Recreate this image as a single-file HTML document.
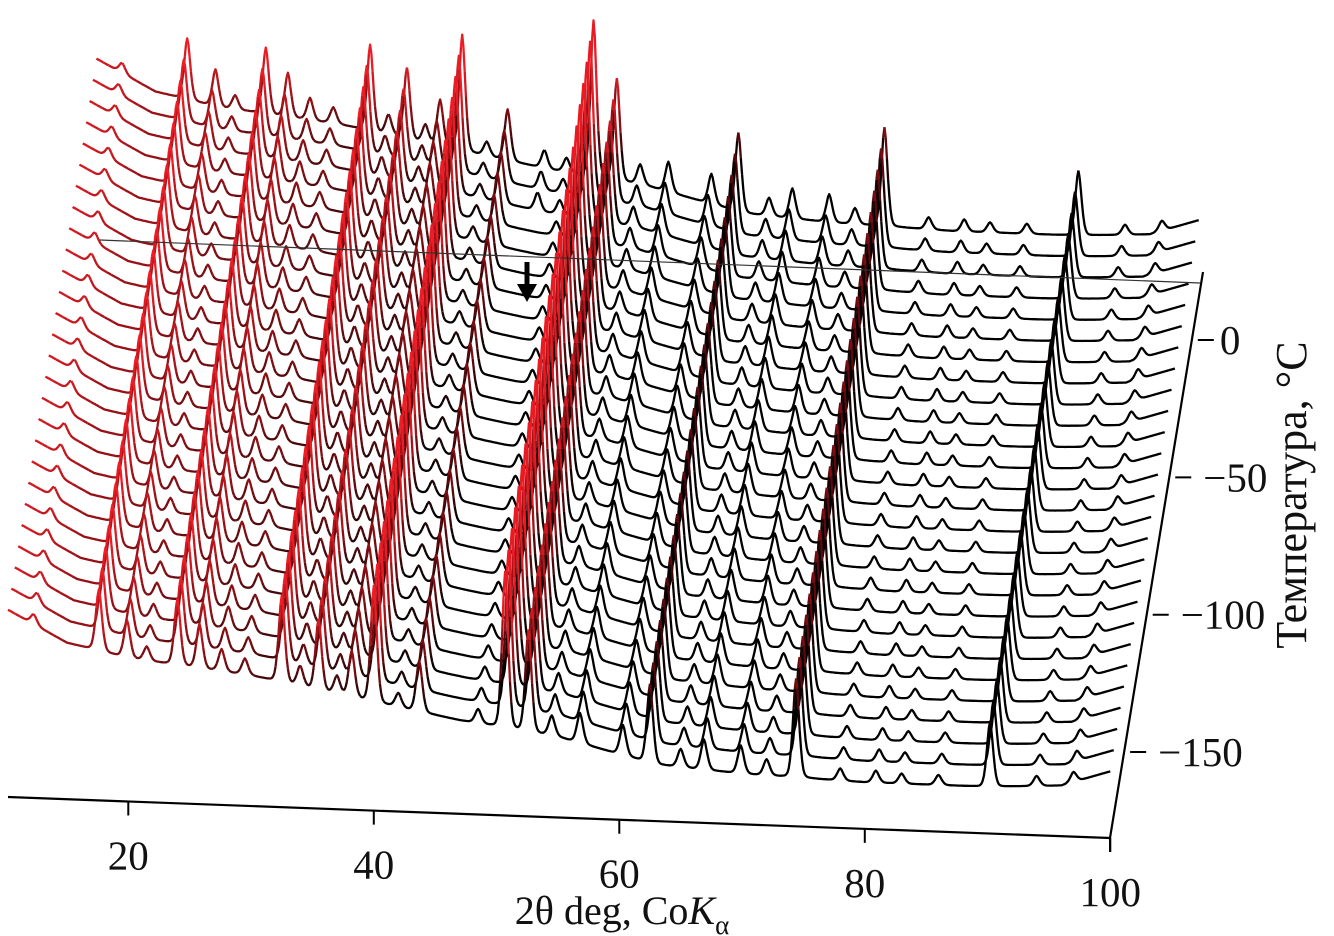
<!DOCTYPE html>
<html><head><meta charset="utf-8"><style>
html,body{margin:0;padding:0;background:#fff;}
svg{display:block;}
text{font-family:"Liberation Serif",serif;fill:#111;}
</style></head><body>
<svg id="chart" width="1334" height="936" viewBox="0 0 1334 936" xmlns="http://www.w3.org/2000/svg">
<g id="traces"></g>
<line x1="100" y1="240" x2="1200" y2="283" stroke="#333" stroke-width="1.2"/>
<g id="axes"></g>
<g>
<line x1="527" y1="262" x2="527" y2="288" stroke="#000" stroke-width="5"/>
<polygon points="517,284 537,284 527,302" fill="#000"/>
</g>
</svg>
<script>
// ---- data ----
const temperatures = [-170,-162.5,-155,-147.5,-140,-132.5,-125,-117.5,-110,-102.5,-95,-87.5,-80,-72.5,-65,-57.5,-50,-42.5,-35,-27.5,-20,-12.5,-5,2.5,10,17.5,25];
const peakPositions = [12.3,17.6,19.9,21.5,24.0,25.8,27.6,29.5,32.5,34.0,35.5,37.0,38.2,40.0,42.0,43.7,46.7,48.5,50.7,52.6,54.5,56.8,60.3,62.5,65.0,66.9,69.9,72.0,74.4,78.0,80.9,83.0,86.0,90.2,94.0,97.0];
const peakHeights   = [10,61,37,14,66,44,22,16,86,20,71,18,46,116,14,51,18,14,156,102,20,30,30,79,18,30,28,16,99,12,12,10,10,65,10,10];
const peakMinTemp   = [-999,-999,-999,-999,-999,-999,-999,-999,-999,-999,-999,-999,-999,-999,-999,-999,10,-999,-999,-999,-999,-999,-999,-999,-999,-999,-999,-999,-999,-999,-999,-999,-999,-999,-999,-999];
const bgAngles = [10,15,20,30,40,47,55,63,70,80,90,96,100];
const bgLevels = [150,118,105,92,70,55,42,18,12,8,8,12,28];
const xTicks = [20,40,60,80,100];
const tTicks = [0,-50,-100,-150];

// ---- scales ----
const TH0 = 10.2, PXDEG = 12.275;
const T0 = -170;
const DX_PER_T = 3.4/7.5, DY_PER_T = 21.2/7.5;
function xFront(th){ return 8 + (th-TH0)*PXDEG; }
function xScr(th,T){ return xFront(th) + (T-T0)*DX_PER_T; }
function y0Scr(th,T){ return 792 + 0.037*(xFront(th)-912) - (T-T0)*DY_PER_T; }
function bg(th){
  for(let i=0;i<bgAngles.length-1;i++){
    if(th<=bgAngles[i+1]){const f=(th-bgAngles[i])/(bgAngles[i+1]-bgAngles[i]);return bgLevels[i]+f*(bgLevels[i+1]-bgLevels[i]);}
  }
  return bgLevels[bgLevels.length-1];
}
function intensity(th,T){
  let I=bg(th);
  for(let i=0;i<peakPositions.length;i++){
    if(T<peakMinTemp[i]) continue;
    const d=(th-peakPositions[i])/0.27;
    I+=peakHeights[i]*(0.75*Math.exp(-0.5*d*d)+0.25/(1+d*d*2));
  }
  return I;
}
function colorFor(I){
  const stops=[[70,[0,0,0]],[110,[128,13,18]],[160,[238,28,36]]];
  let c;
  if(I<=stops[0][0]) c=stops[0][1];
  else if(I>=stops[2][0]) c=stops[2][1];
  else { const k=I<stops[1][0]?0:1; const f=(I-stops[k][0])/(stops[k+1][0]-stops[k][0]);
    c=stops[k][1].map((v,j)=>Math.round(v+f*(stops[k+1][1][j]-v))); }
  return c;
}
const NS="http://www.w3.org/2000/svg";
const tg=document.getElementById('traces');
for(let ti=temperatures.length-1; ti>=0; ti--){
  const T=temperatures[ti];
  const g=document.createElementNS(NS,'g');
  
  
  let pts=[], curKey=null, curCol=null;
  const flush=()=>{ if(pts.length>1){ const p=document.createElementNS(NS,'polyline');
      p.setAttribute('points',pts.join(' ')); p.setAttribute('fill','none');
      p.setAttribute('stroke',curCol); p.setAttribute('stroke-width','2.3');
      p.setAttribute('stroke-linejoin','round');
      
      
      g.appendChild(p);} };
  for(let th=TH0; th<=100.001; th+=0.1){
    const I=intensity(th,T);
    const x=xScr(th,T), y=y0Scr(th,T)-I;
    const c=colorFor(I); const key=c.map(v=>Math.round(v/16)).join(',');
    const pt=x.toFixed(1)+','+y.toFixed(1);
    if(key!==curKey){ if(curKey!==null){ pts.push(pt); flush(); pts=[pts[pts.length-1]]; } else pts=[];
      curKey=key; curCol='rgb('+c.join(',')+')'; if(pts.length===0) pts.push(pt); }
    else pts.push(pt);
  }
  flush();
  tg.appendChild(g);
}
// axes
const ag=document.getElementById('axes');
function mk(tag,attrs,name,txt){const e=document.createElementNS(NS,tag);for(const k in attrs)e.setAttribute(k,attrs[k]);
  
  
  if(txt!==undefined)e.textContent=txt;ag.appendChild(e);return e;}
mk('line',{x1:8,y1:797,x2:1110,y2:838,stroke:'#000','stroke-width':2.2},'x-axis-line');
mk('line',{x1:1110,y1:838,x2:1203,y2:272,stroke:'#000','stroke-width':2.2},'temperature-axis-line');
mk('line',{x1:1110,y1:838,x2:1110,y2:852,stroke:'#000','stroke-width':2},'x-axis-end-tick');
function xAxisPos(th){ const x=xFront(th); return [x, 797+(x-8)*(41/1102)]; }
xTicks.forEach(v=>{const [x,y]=xAxisPos(v);
  mk('line',{x1:x,y1:y,x2:x,y2:y+14,stroke:'#000','stroke-width':2},'x-tick');
  mk('text',{x:x,y:y+68,'text-anchor':'middle','font-size':41},'x-tick-label',String(v));});
mk('text',{x:622,y:924,'text-anchor':'middle','font-size':40},'x-axis-title').innerHTML='2θ deg, Co<tspan font-style="italic">K</tspan><tspan font-size="27" dy="10">α</tspan>';
function tAxisY(t){ return 340 - t*2.747; }
function tAxisX(y){ return 1110 + (838-y)*(93/566); }
tTicks.forEach(t=>{const y=tAxisY(t), x=tAxisX(y);
  mk('line',{x1:x+6,y1:y,x2:x+22,y2:y,stroke:'#000','stroke-width':2},'temperature-tick');
  mk('text',{x:x+(t===0?28:34),y:y+14,'font-size':41},'temperature-tick-label',t===0?'0':'\u2212'+Math.abs(t));});
mk('text',{x:0,y:0,'text-anchor':'middle','font-size':44,transform:'translate(1306,495) rotate(-90)'},'temperature-axis-title','Температура, °C');
</script>
</body></html>
